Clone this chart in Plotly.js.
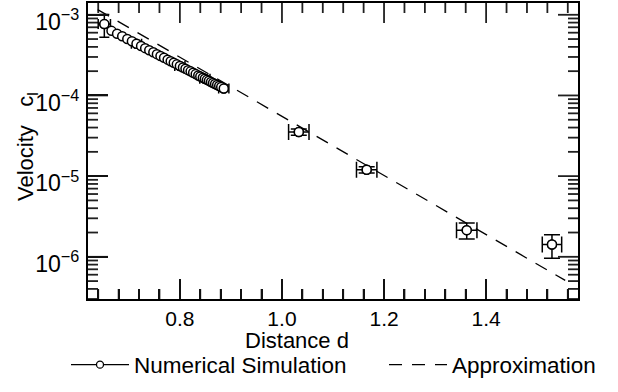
<!DOCTYPE html>
<html>
<head>
<meta charset="utf-8">
<script src="https://cdn.plot.ly/plotly-3.0.1.min.js"></script>
<style>html,body{margin:0;padding:0;background:#fff;}#chart{width:618px;height:392px;}</style>
</head>
<body>
<div id="chart"></div>
<script>
// Numerical simulation points
var simX = [0.652, 0.666, 0.677, 0.687, 0.697, 0.706, 0.715, 0.724, 0.732, 0.740, 0.748, 0.755, 0.762, 0.769, 0.776, 0.782, 0.788, 0.794, 0.800, 0.806, 0.811, 0.816, 0.821, 0.826, 0.831, 0.836, 0.840, 0.845, 0.849, 0.853, 0.857, 0.861, 0.865, 0.869, 0.873, 0.877, 0.881, 0.886, 1.033, 1.166, 1.362, 1.529];
var simY = [7.66e-4, 6.32e-4, 5.82e-4, 5.41e-4, 5.01e-4, 4.69e-4, 4.38e-4, 4.10e-4, 3.86e-4, 3.64e-4, 3.43e-4, 3.25e-4, 3.08e-4, 2.93e-4, 2.78e-4, 2.66e-4, 2.54e-4, 2.43e-4, 2.32e-4, 2.22e-4, 2.14e-4, 2.06e-4, 1.99e-4, 1.91e-4, 1.84e-4, 1.77e-4, 1.72e-4, 1.66e-4, 1.61e-4, 1.56e-4, 1.52e-4, 1.47e-4, 1.43e-4, 1.39e-4, 1.35e-4, 1.31e-4, 1.27e-4, 1.22e-4, 3.53e-5, 1.20e-5, 2.14e-6, 1.42e-6];

// Points of the dense branch that carry error bars
var errDenseX = [0.652, 0.715, 0.800, 0.849, 0.886];
var errDenseY = [7.66e-4, 4.38e-4, 2.32e-4, 1.61e-4, 1.22e-4];
var errDenseDX = [0.012, 0.010, 0.010, 0.010, 0.010];
var errDenseDY = [2.4e-4, 1.0e-5, 6.0e-6, 4.0e-6, 3.0e-6];

// Isolated points with error bars
var errFarX = [1.033, 1.166, 1.362, 1.529];
var errFarY = [3.53e-5, 1.20e-5, 2.14e-6, 1.42e-6];
var errFarDX = [0.020, 0.020, 0.020, 0.019];
var errFarDY = [3.2e-6, 1.1e-6, 4.8e-7, 4.6e-7];

// Approximation (straight line on the log scale)
var approxX = [0.639, 1.555];
var approxY = [1.16e-3, 5.1e-7];

// Axis ticks
var xMajorTicks = [0.8, 1.0, 1.2, 1.4];
var xMinorTicks = [0.64, 0.68, 0.72, 0.76, 0.84, 0.88, 0.92, 0.96, 1.04, 1.08, 1.12, 1.16, 1.24, 1.28, 1.32, 1.36, 1.44, 1.48, 1.52, 1.56];
var yMajorTicks = [1e-6, 1e-5, 1e-4, 1e-3];
var yMinorTicks = [3e-7, 4e-7, 5e-7, 6e-7, 7e-7, 8e-7, 9e-7,
                   2e-6, 3e-6, 4e-6, 5e-6, 6e-6, 7e-6, 8e-6, 9e-6,
                   2e-5, 3e-5, 4e-5, 5e-5, 6e-5, 7e-5, 8e-5, 9e-5,
                   2e-4, 3e-4, 4e-4, 5e-4, 6e-4, 7e-4, 8e-4, 9e-4];

var xTitle = 'Distance d';
var yTitle = 'Velocity&nbsp;&nbsp;&nbsp;c<sub>l</sub>';
var legendSim = 'Numerical Simulation';
var legendApprox = 'Approximation';

var FONT = 'Liberation Sans, Arial, Helvetica, sans-serif';
var W = 618, H = 392, ML = 88, MR = 40, MT = 3, MB = 93;
var XR = [0.62, 1.58], YR = [-6.523, -2.854];
var PW = W - ML - MR, PH = H - MT - MB;

var markerStyle = {symbol: 'circle', size: 9, color: '#fff', line: {color: '#000', width: 1.5}};
var DASH = '13px,10px';
var TICKCOLOR = '#202020';

// tick segments (inside, on all four sides) expressed in axis units
var tickX = [], tickY = [];
function xTickSeg(v, len) {
  var d = len / PH * (YR[1] - YR[0]);
  tickX.push(v, v, null, v, v, null);
  tickY.push(Math.pow(10, YR[0]), Math.pow(10, YR[0] + d), null,
             Math.pow(10, YR[1]), Math.pow(10, YR[1] - d), null);
}
function yTickSeg(v, len) {
  var d = len / PW * (XR[1] - XR[0]);
  tickX.push(XR[0], XR[0] + d, null, XR[1], XR[1] - d, null);
  tickY.push(v, v, null, v, v, null);
}
xMajorTicks.forEach(function (v) { xTickSeg(v, 20); });
xMinorTicks.forEach(function (v) { xTickSeg(v, 10); });
yMajorTicks.forEach(function (v) { yTickSeg(v, 20); });
yMinorTicks.forEach(function (v) { yTickSeg(v, 10); });

var traces = [
  {x: tickX, y: tickY, mode: 'lines', showlegend: false, connectgaps: false, hoverinfo: 'skip',
   line: {color: TICKCOLOR, width: 1.8, simplify: false}},
  {x: approxX, y: approxY, mode: 'lines', showlegend: false, line: {color: '#000', width: 1.3, dash: DASH}},
  {x: errDenseX, y: errDenseY, mode: 'markers', showlegend: false, marker: markerStyle,
   error_x: {type: 'data', array: errDenseDX, visible: true, color: '#000', thickness: 1.5, width: 5},
   error_y: {type: 'data', array: errDenseDY, visible: true, color: '#000', thickness: 1.5, width: 5}},
  {x: errFarX, y: errFarY, mode: 'markers', showlegend: false, marker: markerStyle,
   error_x: {type: 'data', array: errFarDX, visible: true, color: '#000', thickness: 1.5, width: 8},
   error_y: {type: 'data', array: errFarDY, visible: true, color: '#000', thickness: 1.5, width: 8}},
  {x: simX, y: simY, mode: 'markers', showlegend: false, marker: markerStyle},
  {x: [null], y: [null], mode: 'lines+markers', name: legendSim, legend: 'legend',
   line: {color: '#000', width: 1.3}, marker: {symbol: 'circle', size: 7, color: '#fff', line: {color: '#000', width: 1.3}}},
  {x: [null], y: [null], mode: 'lines', name: legendApprox, legend: 'legend2',
   line: {color: '#000', width: 1.3, dash: DASH}}
];

var legendBase = {orientation: 'h', xanchor: 'left', y: (MT + PH - 365) / PH, yanchor: 'middle',
                  font: {family: FONT, size: 22.5, color: '#000'}, itemwidth: 58, bgcolor: 'rgba(0,0,0,0)'};

var layout = {
  width: W, height: H,
  margin: {l: ML, r: MR, t: MT, b: MB, autoexpand: false},
  paper_bgcolor: '#fff', plot_bgcolor: '#fff',
  font: {family: FONT, color: '#000', size: 20},
  showlegend: true,
  legend: Object.assign({}, legendBase, {x: (66 - ML) / PW}),
  legend2: Object.assign({}, legendBase, {x: (384 - ML) / PW}),
  xaxis: {
    range: XR, tick0: 0, dtick: 0.2, tickformat: '.1f',
    ticks: 'inside', ticklen: 20, tickwidth: 2, tickcolor: '#111',
    minor: {ticks: 'inside', ticklen: 10, tickwidth: 2, tickcolor: '#111', dtick: 0.04, tick0: 0},
    showline: true, linewidth: 2, linecolor: '#000', mirror: true,
    showgrid: false, zeroline: false, tickfont: {family: FONT, size: 21}
  },
  yaxis: {
    type: 'log', range: YR, dtick: 1, exponentformat: 'power',
    ticks: 'inside', ticklen: 20, tickwidth: 2, tickcolor: '#111',
    showline: true, linewidth: 2, linecolor: '#000', mirror: true,
    showgrid: false, zeroline: false, ticklabeloverflow: 'allow', ticklabelstandoff: 3,
    ticklabelshift: 7, tickfont: {family: FONT, size: 18.5}
  },
  annotations: [
    {text: xTitle, xref: 'paper', yref: 'paper', x: (297 - ML) / PW, y: (MT + PH - 340) / PH,
     xanchor: 'center', yanchor: 'middle', showarrow: false, font: {family: FONT, size: 22}},
    {text: yTitle, xref: 'paper', yref: 'paper', x: (27 - ML) / PW, y: (MT + PH - 147) / PH, textangle: -90,
     xanchor: 'center', yanchor: 'middle', showarrow: false, font: {family: FONT, size: 22}}
  ]
};

Plotly.newPlot('chart', traces, layout, {staticPlot: true, displayModeBar: false});
</script>
</body>
</html>
